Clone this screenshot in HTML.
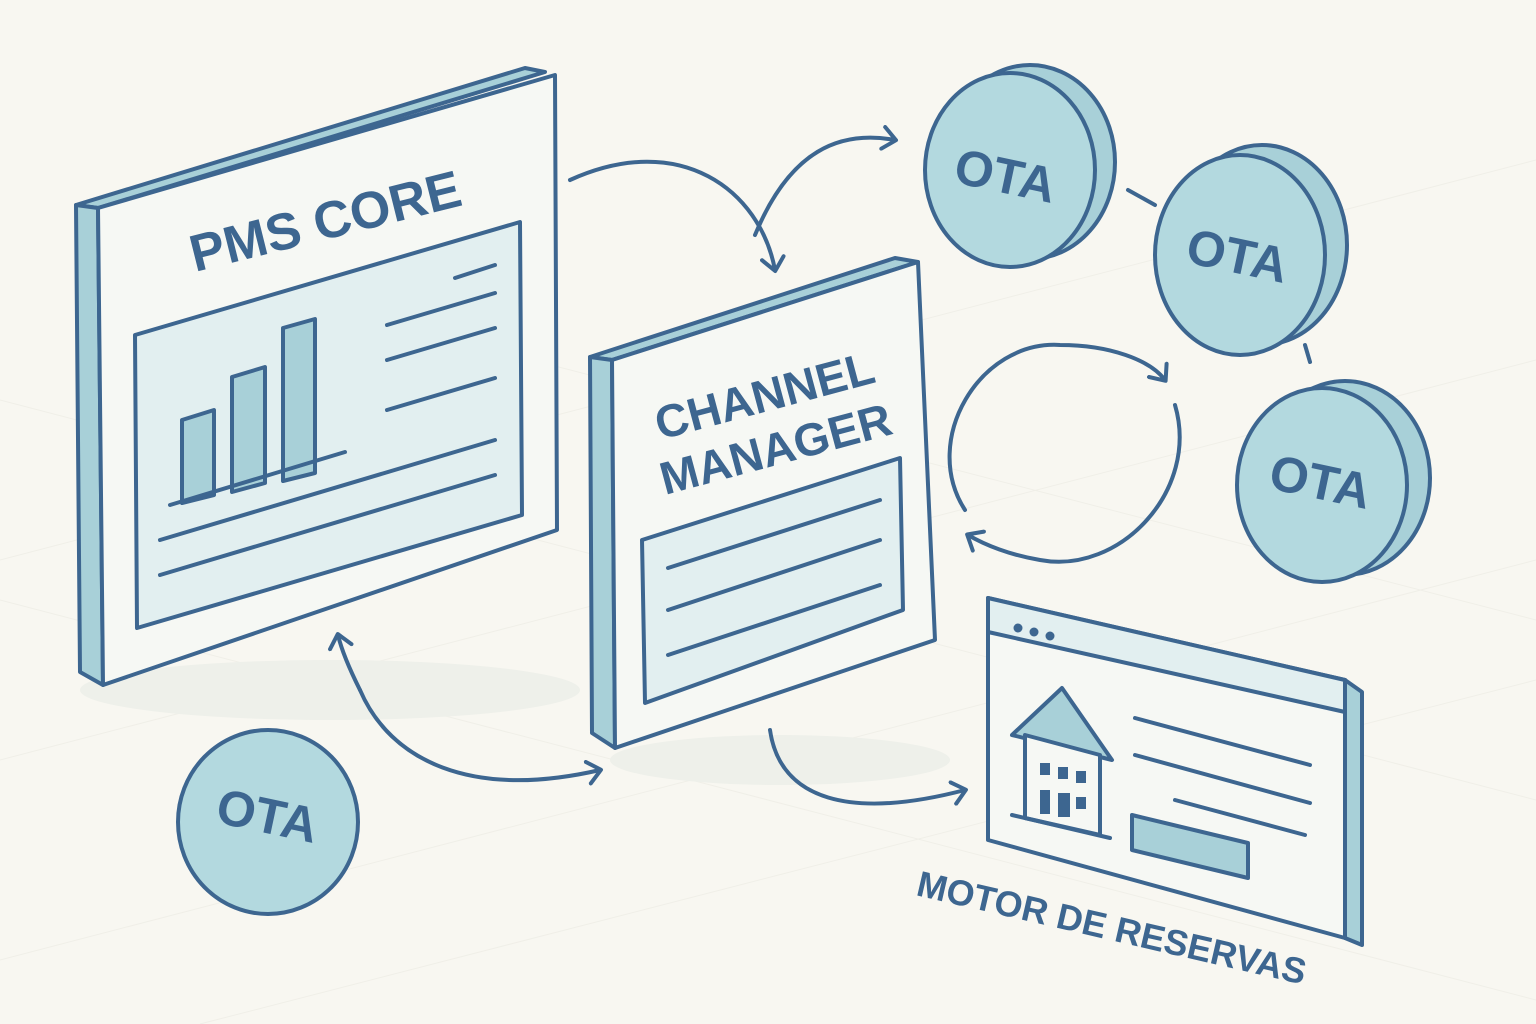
<!DOCTYPE html>
<html><head><meta charset="utf-8"><style>
html,body{margin:0;padding:0;background:#f8f7f1;}
svg{display:block}
text{font-family:"Liberation Sans",sans-serif;font-weight:bold;fill:#3d6690}
</style></head><body>
<svg width="1536" height="1024" viewBox="0 0 1536 1024" xmlns="http://www.w3.org/2000/svg">
<defs>
<marker id="ah" markerWidth="22" markerHeight="26" refX="14" refY="13" orient="auto" markerUnits="userSpaceOnUse">
<path d="M2,2 L15,13 L2,24" fill="none" stroke="#3d6690" stroke-width="4" stroke-linecap="round" stroke-linejoin="round"/>
</marker>
</defs>
<rect width="1536" height="1024" fill="#f8f7f1"/>
<g stroke="#f0efe8" stroke-width="1">
<path d="M0,560 L1536,160 M0,760 L1536,360 M0,960 L1536,560 M200,1024 L1536,680 M0,600 L1536,1000 M0,400 L1536,800 M300,300 L1536,620"/>
</g>
<ellipse cx="330" cy="690" rx="250" ry="30" fill="#eef0ea"/>
<ellipse cx="780" cy="760" rx="170" ry="25" fill="#eef0ea"/>
<g stroke="#3d6690" stroke-width="4" stroke-linejoin="round" stroke-linecap="round" fill="none">
<polygon points="76,205 525,68 545,72 98,208" fill="#a8d0d8"/>
<polygon points="76,205 98,208 103,685 80,672" fill="#a8d0d8"/>
<polygon points="98,208 555,75 557,530 103,685" fill="#f6f8f4"/>
<polygon points="135,335 520,222 522,515 137,628" fill="#e2eff0"/>
<polygon points="182,420 214,410 214,495 182,503" fill="#a8d0d8"/>
<polygon points="232,377 265,367 265,483 232,492" fill="#a8d0d8"/>
<polygon points="283,328 315,319 315,473 283,481" fill="#a8d0d8"/>
<path d="M170,505 L345,452 M160,540 L495,440 M160,575 L495,475 M387,325 L495,293 M387,360 L495,328 M387,410 L495,378 M455,278 L495,265"/>
<polygon points="590,357 895,258 918,262 612,360" fill="#a8d0d8"/>
<polygon points="590,357 612,360 615,748 592,733" fill="#a8d0d8"/>
<polygon points="612,360 918,262 935,640 615,748" fill="#f6f8f4"/>
<polygon points="642,540 900,458 903,610 645,703" fill="#e2eff0"/>
<path d="M668,568 L880,500 M668,610 L880,540 M668,655 L880,585"/>
<ellipse cx="1030" cy="162" rx="85" ry="97" fill="#a8d0d8"/>
<ellipse cx="1010" cy="170" rx="85" ry="97" fill="#b3d9df"/>
<ellipse cx="1262" cy="245" rx="85" ry="100" fill="#a8d0d8"/>
<ellipse cx="1240" cy="255" rx="85" ry="100" fill="#b3d9df"/>
<ellipse cx="1345" cy="478" rx="85" ry="97" fill="#a8d0d8"/>
<ellipse cx="1322" cy="485" rx="85" ry="97" fill="#b3d9df"/>
<ellipse cx="268" cy="822" rx="90" ry="92" fill="#b3d9df"/>
<path d="M1128,190 L1155,205 M1305,345 L1310,362"/>
<polygon points="1345,680 1362,692 1362,945 1345,938" fill="#a8d0d8"/>
<polygon points="988,598 1345,680 1345,938 988,840" fill="#f6f8f4"/>
<polygon points="988,598 1345,680 1345,712 988,632" fill="#e2eff0"/>
<polygon points="1132,815 1248,843 1248,878 1132,850" fill="#a8d0d8"/>
<path d="M1135,718 L1310,765 M1135,755 L1310,803 M1175,800 L1305,835"/>
<polygon points="1012,735 1062,688 1112,760" fill="#a8d0d8"/>
<polygon points="1025,735 1100,755 1100,835 1025,818" fill="#f6f8f4"/>
<path d="M1012,815 L1110,838"/>
<g fill="#3d6690" stroke="none">
<rect x="1040" y="763" width="10" height="12"/><rect x="1058" y="767" width="10" height="12"/><rect x="1076" y="771" width="10" height="12"/>
<rect x="1040" y="790" width="10" height="24"/><rect x="1058" y="793" width="12" height="24"/><rect x="1076" y="797" width="10" height="12"/>
<circle cx="1018" cy="628" r="4.5"/><circle cx="1034" cy="632" r="4.5"/><circle cx="1050" cy="636" r="4.5"/>
</g>
<path d="M570,180 C680,130 760,190 775,270" marker-end="url(#ah)"/>
<path d="M755,235 C790,150 840,130 895,140" marker-end="url(#ah)"/>
<path d="M965,510 C920,440 980,340 1060,345 C1110,345 1150,360 1165,380" marker-end="url(#ah)"/>
<path d="M1175,405 C1200,490 1120,575 1040,560 C1010,555 985,545 968,535" marker-end="url(#ah)"/>
<path d="M360,690 C390,760 470,800 600,770" marker-end="url(#ah)"/>
<path d="M360,690 C350,670 342,652 338,635" marker-end="url(#ah)"/>
<path d="M770,730 C780,800 850,820 965,790" marker-end="url(#ah)"/>
</g>
<text x="0" y="0" font-size="52" transform="translate(195,272) rotate(-14)">PMS CORE</text>
<text x="0" y="0" font-size="46" transform="translate(660,440) rotate(-15)">CHANNEL</text>
<text x="0" y="0" font-size="46" transform="translate(665,495) rotate(-15)">MANAGER</text>
<text x="0" y="0" font-size="50" transform="translate(952,182) rotate(12)">OTA</text>
<text x="0" y="0" font-size="50" transform="translate(1184,262) rotate(12)">OTA</text>
<text x="0" y="0" font-size="50" transform="translate(1267,488) rotate(12)">OTA</text>
<text x="0" y="0" font-size="50" transform="translate(214,822) rotate(12)">OTA</text>
<text x="0" y="0" font-size="36" transform="translate(915,895) rotate(13)">MOTOR DE RESERVAS</text>
</svg>
</body></html>
